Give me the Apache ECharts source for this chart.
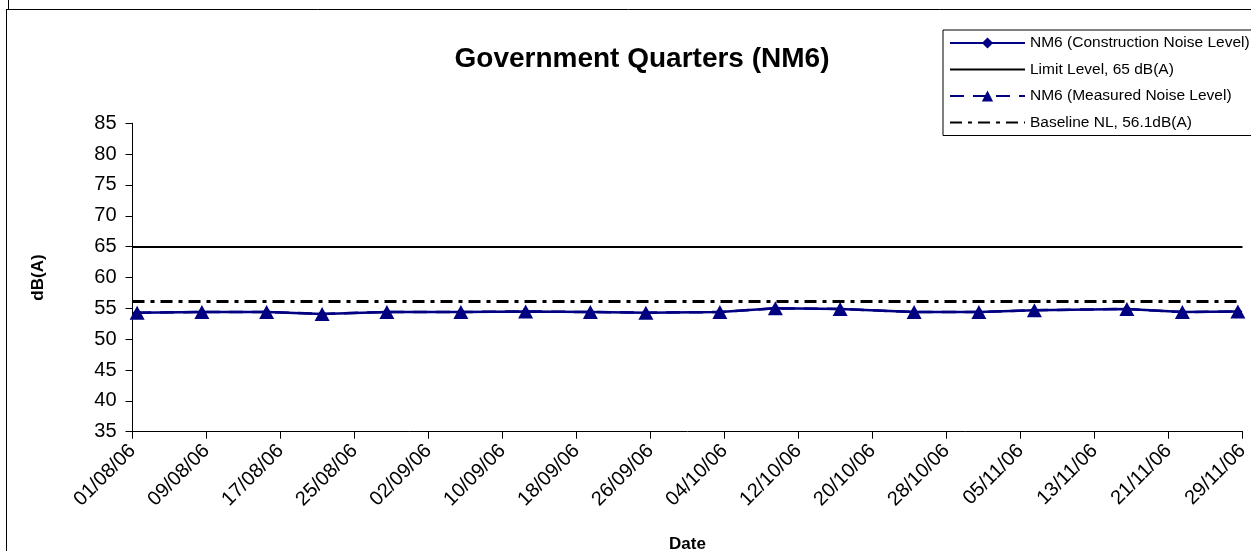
<!DOCTYPE html>
<html>
<head>
<meta charset="utf-8">
<script src="https://cdn.jsdelivr.net/npm/echarts@6/dist/echarts.min.js"></script>
<style>
html,body{margin:0;padding:0;background:#fff;}
#chart{width:1251px;height:551px;}
</style>
</head>
<body>
<div id="chart"></div>
<script>
// ---- data ----
const measureDates = ['01/08/06','08/08/06','15/08/06','21/08/06','28/08/06','05/09/06','12/09/06','19/09/06','25/09/06','03/10/06','09/10/06','16/10/06','24/10/06','31/10/06','06/11/06','16/11/06','22/11/06','28/11/06'];
const measuredNoise = [54.3,54.4,54.4,54.1,54.4,54.4,54.5,54.4,54.3,54.4,55.0,54.9,54.4,54.4,54.7,54.9,54.4,54.5];
const limitLevel = 65;
const baselineLevel = 56.1;
const yTicks = [35,40,45,50,55,60,65,70,75,80,85];
const startDate = '01/08/06';
const endDate = '29/11/06';
const seriesNames = ['NM6 (Construction Noise Level)','Limit Level, 65 dB(A)','NM6 (Measured Noise Level)','Baseline NL, 56.1dB(A)'];

// ---- helpers ----
function parseD(s){const p=s.split('/');return new Date(2000+ +p[2], +p[1]-1, +p[0]);}
const t0 = parseD(startDate);
function dayIdx(s){return Math.round((parseD(s)-t0)/86400000);}
function fmt(d){const z=n=>(n<10?'0':'')+n;return z(d.getDate())+'/'+z(d.getMonth()+1)+'/'+z(d.getFullYear()%100);}
const lastDay = dayIdx(endDate);
const points = measureDates.map((d,i)=>[dayIdx(d), measuredNoise[i]]);

const FONT = "'Liberation Sans', Arial, sans-serif";
const NAVY = '#000080';

const chart = echarts.init(document.getElementById('chart'), null, {renderer:'canvas'});
chart.setOption({
  animation:false,
  backgroundColor:'#fff',
  title:{
    text:'Government Quarters (NM6)',
    left:637, top:40, textAlign:'center',
    textStyle:{fontFamily:FONT,fontSize:28,fontWeight:'bold',color:'#000'}
  },
  legend:{
    orient:'vertical',
    left:943, top:30,
    itemWidth:75, itemHeight:14, itemGap:10.5,
    padding:[5,6,5,6],
    borderColor:'#000', borderWidth:1,
    backgroundColor:'#fff',
    data:seriesNames,
    textStyle:{fontFamily:FONT,fontSize:15.5,color:'#000'}
  },
  grid:{left:132.5, right:8.5, top:123.3, bottom:119.3, containLabel:false, outerBoundsMode:'none'},
  xAxis:{
    type:'value',
    min:-0.5, max:lastDay-0.5, interval:8,
    name:'Date', nameLocation:'middle', nameGap:104,
    nameTextStyle:{fontFamily:FONT,fontSize:17,fontWeight:'bold',color:'#000'},
    axisLine:{show:true,onZero:false,lineStyle:{color:'#000',width:1}},
    axisTick:{show:true,length:7,lineStyle:{color:'#000'}},
    splitLine:{show:false},
    axisLabel:{
      rotate:45, margin:16,
      fontFamily:FONT, fontSize:20, color:'#000',
      formatter:function(v){const d=new Date(t0.getTime());d.setDate(d.getDate()+Math.round(v+0.5));return fmt(d);}
    }
  },
  yAxis:{
    type:'value',
    min:yTicks[0], max:yTicks[yTicks.length-1], interval:5,
    name:'dB(A)', nameLocation:'middle', nameGap:86,
    nameTextStyle:{fontFamily:FONT,fontSize:17,fontWeight:'bold',color:'#000'},
    axisLine:{show:true,onZero:false,lineStyle:{color:'#000',width:1}},
    axisTick:{show:true,length:7,lineStyle:{color:'#000'}},
    splitLine:{show:false},
    axisLabel:{margin:16,fontFamily:FONT,fontSize:20,color:'#000'}
  },
  series:[
    {
      name:seriesNames[0], type:'line', data:points,
      symbol:'diamond', symbolSize:9,
      lineStyle:{color:NAVY,width:2.5,type:'solid'},
      itemStyle:{color:NAVY}, z:2
    },
    {
      name:seriesNames[1], type:'line', data:[], symbol:'none',
      lineStyle:{color:'#000',width:2},
      itemStyle:{color:'#000',opacity:0},
      markLine:{silent:true,symbol:['none','none'],label:{show:false},
        lineStyle:{color:'#000',width:2,type:'solid',opacity:1},
        data:[{yAxis:limitLevel}]}
    },
    {
      name:seriesNames[2], type:'line', data:points,
      symbol:'triangle', symbolSize:[15,14],
      lineStyle:{color:NAVY,width:2.5,type:[14,9]},
      itemStyle:{color:NAVY}, z:3
    },
    {
      name:seriesNames[3], type:'line', data:[], symbol:'none',
      lineStyle:{color:'#000',width:3,type:[12,6,4,6]},
      itemStyle:{color:'#000',opacity:0},
      markLine:{silent:true,symbol:['none','none'],label:{show:false},
        lineStyle:{color:'#000',width:3,type:[12,6,4,6],opacity:1},
        data:[{yAxis:baselineLevel}]}
    }
  ],
  graphic:[
    {type:'line',shape:{x1:8.5,y1:0,x2:8.5,y2:9},style:{stroke:'#000',lineWidth:1}},
    {type:'line',shape:{x1:6,y1:9.5,x2:1251,y2:9.5},style:{stroke:'#000',lineWidth:1}},
    {type:'line',shape:{x1:6.5,y1:9,x2:6.5,y2:551},style:{stroke:'#000',lineWidth:1}}
  ]
});
</script>
</body>
</html>
